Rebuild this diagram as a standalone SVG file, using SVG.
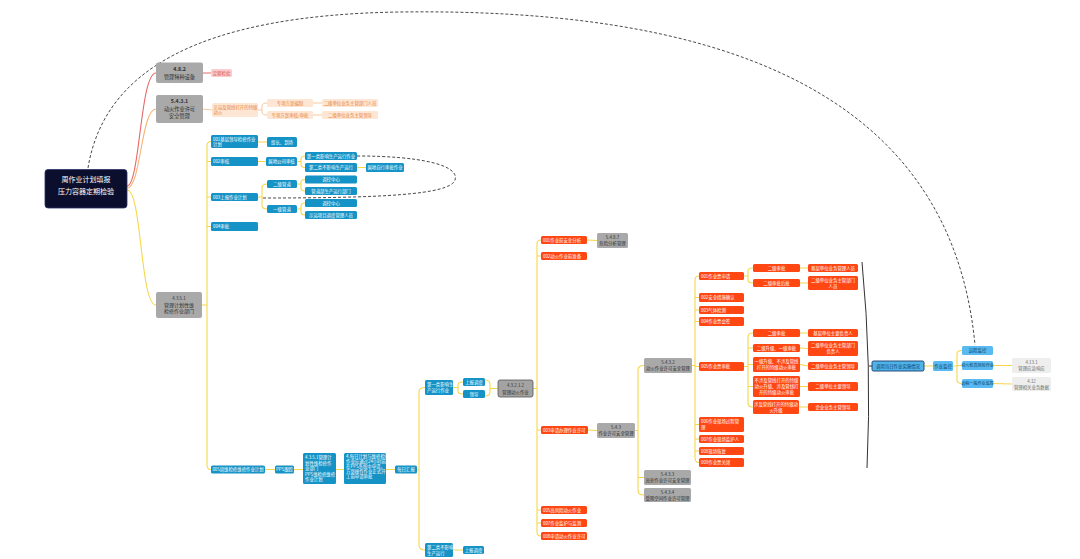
<svg xmlns="http://www.w3.org/2000/svg" width="1080" height="559" viewBox="0 0 1080 559">
<style>
text{font-family:"Noto Sans CJK SC","Noto Sans",sans-serif;font-size:4.4px}
.c{text-anchor:middle}
.b{fill:#1592c6}
.bt{fill:#fff}
.r{fill:#ff4713}
.rt{fill:#fff}
.g{fill:#a9a9a9}
.gt{fill:#2e2e2e}
.p{fill:#fde6d3}
.pt{fill:#e8823a}
.s{fill:#58baf0}
.st{fill:#0d3a66}
.lg{fill:#eeeeee}
.lgt{fill:#6b6b6b}
.y{fill:none;stroke:#f6d74a;stroke-width:1.1}
.pl{fill:none;stroke:#f8c79a;stroke-width:1}
.dash{fill:none;stroke:#333;stroke-width:0.9;stroke-dasharray:3 2}
</style>
<rect width="1080" height="559" fill="#fff"/>
<g id="connectors">
<path class="y" d="M127,190 C142,190 140,305 156,305 M202,305 L207,305 M211,141.5 Q207,141.5 207,146 L207,465 Q207,469.5 211,469.5 M207,161.5 L211,161.5 M207,197 L211,197 M207,226.5 L211,226.5"/>
<path class="y" d="M258,142 L267,142 M258,161.5 L266,161.5 M297,161.5 L301,161.5 M305,156 Q301,156 301,159 L301,164.5 Q301,167.5 305,167.5 M357,167.5 L366,167.5"/>
<path class="y" d="M258,197 L262,197 M267,184 Q262,184 262,188 L262,205 Q262,209 267,209 M297,184 L301,184 M305,179.5 Q301,179.5 301,182 L301,188.5 Q301,191 305,191 M297,209 L301,209 M305,203 Q301,203 301,206 L301,212 Q301,215 305,215"/>
<path class="y" d="M265,469.5 L275,469.5 M294,469.5 L303,469.5 M336,469.5 L344,469.5 M386,469.5 L395,469.5 M417,469.5 L419,469.5 M425,387.5 Q419,387.5 419,392 L419,545 Q419,550 425,550"/>
<path class="y" d="M453,387.5 L458,387.5 M463,382 Q458,382 458,385 L458,391 Q458,394 463,394 M485,380 Q490,380 490,384 L490,392 Q490,396 485,396 M490,388.5 L498,388.5 M453,550 L463,550"/>
<path class="y" d="M533,388.5 L537,388.5 M541,240 Q537,240 537,244 L537,532 Q537,536 541,536 M537,256 L541,256 M537,430 L541,430 M537,510 L541,510 M537,523 L541,523 M587,240 L597,240.5 M588,430 L597,430.5"/>
<path class="y" d="M635,430.5 L638,430.5 M644,365.5 Q638,365.5 638,370 L638,490.5 Q638,495 644,495 M638,477.5 L644,477.5"/>
<path class="y" d="M692,365.5 L695,365.5 M699,276 Q695,276 695,280 L695,458 Q695,462.5 699,462.5 M695,297.5 L699,297.5 M695,310 L699,310 M695,321.5 L699,321.5 M695,366.5 L699,366.5 M695,424.5 L699,424.5 M695,439 L699,439 M695,451 L699,451"/>
<path class="y" d="M744,276 L748,276 M753,268 Q748,268 748,271 L748,280 Q748,283 753,283 M800,268 L808,268 M800,283 L808,283"/>
<path class="y" d="M744,366.5 L748,366.5 M753,333 Q748,333 748,337 L748,403 Q748,407 753,407 M748,348 L753,348 M748,364.5 L753,364.5 M748,386.5 L753,386.5 M800,333 L808,333 M800,348 L808,348.5 M800,364.5 L808,366 M800,386.5 L808,386.5 M799,407 L808,407"/>
<path class="y" d="M924,366 L933,366 M953,366 L957,366 M962,350.5 Q957,350.5 957,354 L957,380 Q957,383.5 962,383.5 M957,365.5 L962,365.5 M993,365.5 L1012,365.5 M993,383.5 L1012,384"/>
<path fill="none" stroke="#e86a6a" stroke-width="1.1" d="M127,186 C140,186 140,73 156,73 M203,73 L211,73"/>
<path fill="none" stroke="#f5b475" stroke-width="1.1" d="M127,188 C141,188 141,109 156,109"/>
<path class="pl" d="M203,109 L212,110 M258,110 L262,110 M267,103 Q262,103 262,106 L262,112 Q262,115 267,115 M313,103 L322,103 M313,115 L322,115"/>
<path fill="none" stroke="#333" stroke-width="1" d="M862,262 Q872,365 867,468 M869,366 L872,366"/>
<path class="dash" d="M88,168 C104,70 200,15 400,12 C700,8 950,80 975,345"/>
<path class="dash" d="M357,156 C420,156 460,165 455,180 C450,195 380,198 262,198"/>
</g>
<g id="root">
<rect x="45" y="169.5" width="82" height="38.5" rx="3" fill="#0b0e2c" stroke="#2a3466" stroke-width="0.8"/>
<text class="c" x="86" y="182" fill="#fff" style="font-size:7px">周作业计划填报</text>
<text class="c" x="86" y="194" fill="#fff" style="font-size:7px">压力容器定期检验</text>
</g>
<g id="n482"><rect class="g" x="156" y="62.5" width="47" height="20.5" rx="2"/><text class="c gt" x="179.5" y="71" style="font-size:5.2px;font-weight:bold">4.8.2</text><text class="c gt" x="179.5" y="78.5" style="font-size:5.2px">管理特种设备</text></g>
<g id="n482a"><rect x="211" y="69" width="21" height="8" rx="1.5" fill="#f9cdd0"/><text class="c" x="221.5" y="74.6" fill="#d9534f">定期检验</text></g>
<g id="n5431"><rect class="g" x="156" y="95" width="47" height="28" rx="2"/><text class="c gt" x="179.5" y="103" style="font-size:5.2px;font-weight:bold">5.4.3.1</text><text class="c gt" x="179.5" y="110.5" style="font-size:5.2px">动火作业许可</text><text class="c gt" x="179.5" y="118" style="font-size:5.2px">安全管理</text></g>
<g id="p1"><rect class="p" x="212" y="103" width="46" height="14" rx="1.5"/><text class="pt" x="213.5" y="108.5">示运及管线打开的特级</text><text class="pt" x="213.5" y="114">动火</text></g>
<g id="p2"><rect class="p" x="267" y="99" width="46" height="8" rx="1.5"/><text class="c pt" x="290" y="104.6">专项方案编制</text></g>
<g id="p3"><rect class="p" x="267" y="111" width="46" height="8" rx="1.5"/><text class="c pt" x="290" y="116.6">专项方案审核/审批</text></g>
<g id="p4"><rect class="p" x="322" y="99" width="56" height="8" rx="1.5"/><text class="c pt" x="350" y="104.6">二级单位业务主管部门人员</text></g>
<g id="p5"><rect class="p" x="322" y="111" width="56" height="8" rx="1.5"/><text class="c pt" x="350" y="116.6">二级单位业务主管领导</text></g>
<g id="n4351"><rect class="g" x="156" y="292" width="46" height="26" rx="2"/><text class="c gt" x="179" y="299.5">4.3.5.1</text><text class="c gt" x="179" y="306.5" style="font-size:5px">管理计划性维</text><text class="c gt" x="179" y="313" style="font-size:5px">检修作业部门</text></g>
<g id="b001"><rect class="b" x="211" y="135" width="47" height="13" rx="1.5"/><text class="bt" x="213" y="140.5">001基层领导检修作业</text><text class="bt" x="213" y="146">计划</text></g>
<g id="b001a"><rect class="b" x="267" y="137" width="30" height="10" rx="1.5"/><text class="c bt" x="282" y="143.6">组长、到场</text></g>
<g id="b002"><rect class="b" x="211" y="157" width="47" height="9" rx="1.5"/><text class="bt" x="213" y="163">002审核</text></g>
<g id="b002a"><rect class="b" x="266" y="157" width="31" height="9" rx="1.5"/><text class="c bt" x="281.5" y="163">属地公司审核</text></g>
<g id="b002b"><rect class="b" x="305" y="152" width="52" height="8" rx="1.5"/><text class="c bt" x="331" y="157.6">第一类影响生产运行作业</text></g>
<g id="b002c"><rect class="b" x="305" y="163" width="52" height="9" rx="1.5"/><text class="c bt" x="331" y="169">第二类不影响生产运行</text></g>
<g id="b002d"><rect class="b" x="366" y="163" width="38" height="9" rx="1.5"/><text class="c bt" x="385" y="169">属地自行审批作业</text></g>
<g id="b003"><rect class="b" x="211" y="193" width="47" height="8" rx="1.5"/><text class="bt" x="213" y="198.6">003上报作业计划</text></g>
<g id="b003a"><rect class="b" x="267" y="180" width="30" height="8" rx="1.5"/><text class="c bt" x="282" y="185.6">二级管道</text></g>
<g id="b003b"><rect class="b" x="305" y="175.5" width="52" height="8" rx="1.5"/><text class="c bt" x="331" y="181.1">调控中心</text></g>
<g id="b003c"><rect class="b" x="305" y="187" width="52" height="8" rx="1.5"/><text class="c bt" x="331" y="192.6">管道部生产运行部门</text></g>
<g id="b003d"><rect class="b" x="267" y="205" width="30" height="8" rx="1.5"/><text class="c bt" x="282" y="210.6">一级管道</text></g>
<g id="b003e"><rect class="b" x="305" y="199" width="52" height="8" rx="1.5"/><text class="c bt" x="331" y="204.6">调控中心</text></g>
<g id="b003f"><rect class="b" x="305" y="211" width="52" height="8" rx="1.5"/><text class="c bt" x="331" y="216.6">示运项目调度管理人员</text></g>
<g id="b004"><rect class="b" x="211" y="222" width="47" height="9" rx="1.5"/><text class="bt" x="213" y="228">004审批</text></g>
<g id="b005"><rect class="b" x="211" y="465.5" width="54" height="8" rx="1.5"/><text class="c bt" x="238" y="471.1">005周维检修维修作业计划</text></g>
<g id="b005a"><rect class="b" x="275" y="465.5" width="19" height="8" rx="1.5"/><text class="c bt" x="284.5" y="471.1">PPS跟踪</text></g>
<g id="b005b"><rect class="b" x="303" y="453" width="33" height="31" rx="1.5"/><text class="bt" x="305" y="459">4.3.5.1管理计</text><text class="bt" x="305" y="464.5">划性维检修作</text><text class="bt" x="305" y="470">业部门</text><text class="bt" x="305" y="475.5">PPS维检修维修</text><text class="bt" x="305" y="481">作业计划</text></g>
<g id="b005c"><rect class="b" x="344" y="453" width="42" height="31" rx="1.5"/><text class="bt" x="346" y="458">4.每日计划与维修检修</text><text class="bt" x="346" y="463">作业应通过24小时前</text><text class="bt" x="346" y="468">在PPS系统中申请，</text><text class="bt" x="346" y="473">方案操作作业正式开</text><text class="bt" x="346" y="478">工前申请审批</text></g>
<g id="b005d"><rect class="b" x="395" y="465.5" width="22" height="8" rx="1.5"/><text class="c bt" x="406" y="471.1">每日汇报</text></g>
<g id="c1"><rect class="b" x="425" y="380" width="28" height="15" rx="1.5"/><text class="bt" x="427" y="386.3">第一类影响生</text><text class="bt" x="427" y="392.3">产运行作业</text></g>
<g id="c1a"><rect class="b" x="463" y="378" width="22" height="8" rx="1.5"/><text class="c bt" x="474" y="383.6">上报调度</text></g>
<g id="c1b"><rect class="b" x="463" y="390" width="22" height="8" rx="1.5"/><text class="c bt" x="474" y="395.6">领导</text></g>
<g id="c2"><rect class="b" x="425" y="543" width="28" height="14" rx="1.5"/><text class="bt" x="427" y="549">第二类不影响</text><text class="bt" x="427" y="555">生产运行</text></g>
<g id="c2a"><rect class="b" x="463" y="546" width="21" height="8" rx="1.5"/><text class="c bt" x="473.5" y="551.6">上报调度</text></g>
<g id="g43212"><rect x="498" y="380" width="35" height="17" rx="2" fill="#a3a3a3" stroke="#555" stroke-width="0.8"/><text class="c gt" x="515.5" y="387">4.3.2.1.2</text><text class="c gt" x="515.5" y="393.5">管理动火作业</text></g>
<g id="r1"><rect class="r" x="541" y="236" width="46" height="8" rx="1.5"/><text class="rt" x="543" y="241.6">001作业前安全分析</text></g>
<g id="g5487"><rect class="g" x="597" y="233" width="31" height="15" rx="1.5"/><text class="c gt" x="612.5" y="239.3">5.4.8.7</text><text class="c gt" x="612.5" y="245.3">危险分析管理</text></g>
<g id="r2"><rect class="r" x="541" y="252" width="46" height="8" rx="1.5"/><text class="rt" x="543" y="257.6">002动火作业前准备</text></g>
<g id="r3"><rect class="r" x="541" y="426" width="47" height="8" rx="1.5"/><text class="rt" x="543" y="431.6">003申请办理作业许可</text></g>
<g id="g543"><rect class="g" x="597" y="423" width="38" height="15" rx="1.5"/><text class="c gt" x="616" y="429.3">5.4.3</text><text class="c gt" x="616" y="435.3">作业许可安全管理</text></g>
<g id="r5"><rect class="r" x="541" y="506" width="46" height="8" rx="1.5"/><text class="rt" x="543" y="511.6">005高风险动火作业</text></g>
<g id="r7"><rect class="r" x="541" y="519" width="46" height="8" rx="1.5"/><text class="rt" x="543" y="524.6">007作业监护与监测</text></g>
<g id="r8"><rect class="r" x="541" y="532" width="46" height="8" rx="1.5"/><text class="rt" x="543" y="537.6">008申请动火作业许可</text></g>
<g id="g5432"><rect class="g" x="644" y="358" width="48" height="15" rx="1.5"/><text class="c gt" x="668" y="364.3">5.4.3.2</text><text class="c gt" x="668" y="370.3">动火作业许可安全管理</text></g>
<g id="g5433"><rect class="g" x="644" y="470" width="47" height="15" rx="1.5"/><text class="c gt" x="667.5" y="476.3">5.4.3.3</text><text class="c gt" x="667.5" y="482.3">高处作业许可安全管理</text></g>
<g id="g5434"><rect class="g" x="644" y="488" width="47" height="14" rx="1.5"/><text class="c gt" x="667.5" y="494">5.4.3.4</text><text class="c gt" x="667.5" y="500">受限空间作业许可管理</text></g>
<g id="s1"><rect class="r" x="699" y="272" width="45" height="8" rx="1.5"/><text class="rt" x="701" y="277.6">001作业票申请</text></g>
<g id="s2"><rect class="r" x="699" y="293" width="45" height="9" rx="1.5"/><text class="rt" x="701" y="299">002安全措施确认</text></g>
<g id="s3"><rect class="r" x="699" y="306" width="45" height="8" rx="1.5"/><text class="rt" x="701" y="311.6">003气体检测</text></g>
<g id="s4"><rect class="r" x="699" y="317" width="45" height="9" rx="1.5"/><text class="rt" x="701" y="323">004作业票会签</text></g>
<g id="s5"><rect class="r" x="699" y="362" width="45" height="9" rx="1.5"/><text class="rt" x="701" y="368">005作业票审批</text></g>
<g id="s6"><rect class="r" x="699" y="417" width="45" height="15" rx="1.5"/><text class="rt" x="701" y="423">006作业现场过程管</text><text class="rt" x="701" y="429">理</text></g>
<g id="s7"><rect class="r" x="699" y="435" width="45" height="8" rx="1.5"/><text class="rt" x="701" y="440.6">007作业现场监护人</text></g>
<g id="s8"><rect class="r" x="699" y="447" width="45" height="8" rx="1.5"/><text class="rt" x="701" y="452.6">008现场恢复</text></g>
<g id="s9"><rect class="r" x="699" y="458" width="45" height="9" rx="1.5"/><text class="rt" x="701" y="464">009作业票关闭</text></g>
<g id="a1"><rect class="r" x="753" y="264" width="47" height="8" rx="1.5"/><text class="c rt" x="776.5" y="269.6">二级审批</text></g>
<g id="a2"><rect class="r" x="753" y="279" width="47" height="8" rx="1.5"/><text class="c rt" x="776.5" y="284.6">二级审批后批</text></g>
<g id="a1r"><rect class="r" x="808" y="264" width="50" height="8" rx="1.5"/><text class="c rt" x="833" y="269.6">基层单位业务管理人员</text></g>
<g id="a2r"><rect class="r" x="808" y="276" width="50" height="14" rx="1.5"/><text class="c rt" x="833" y="282">二级单位业务主管部门</text><text class="c rt" x="833" y="287.5">人员</text></g>
<g id="e1"><rect class="r" x="753" y="329" width="47" height="8" rx="1.5"/><text class="c rt" x="776.5" y="334.6">二级审批</text></g>
<g id="e2"><rect class="r" x="753" y="344" width="47" height="8" rx="1.5"/><text class="c rt" x="776.5" y="349.6">二级升级、一级审批</text></g>
<g id="e3"><rect class="r" x="753" y="357" width="47" height="15" rx="1.5"/><text class="c rt" x="776.5" y="363.3">一级升级、不涉及管线</text><text class="c rt" x="776.5" y="369.3">打开的特级动火审批</text></g>
<g id="e4"><rect class="r" x="753" y="376" width="47" height="21" rx="1.5"/><text class="c rt" x="776.5" y="382.3">不涉及管线打开的特级</text><text class="c rt" x="776.5" y="388.3">动火升级、涉及管线打</text><text class="c rt" x="776.5" y="394.3">开的特级动火审批</text></g>
<g id="e5"><rect class="r" x="753" y="400" width="46" height="14" rx="1.5"/><text class="c rt" x="776" y="406">涉及管线打开的特级动</text><text class="c rt" x="776" y="412">火升级</text></g>
<g id="f1"><rect class="r" x="808" y="329" width="50" height="8" rx="1.5"/><text class="c rt" x="833" y="334.6">基层单位主要负责人</text></g>
<g id="f2"><rect class="r" x="808" y="341" width="50" height="15" rx="1.5"/><text class="c rt" x="833" y="347.3">二级单位业务主管部门</text><text class="c rt" x="833" y="353.3">负责人</text></g>
<g id="f3"><rect class="r" x="808" y="362" width="50" height="8" rx="1.5"/><text class="c rt" x="833" y="367.6">二级单位业务主管领导</text></g>
<g id="f4"><rect class="r" x="808" y="382" width="50" height="9" rx="1.5"/><text class="c rt" x="833" y="388">二级单位主要领导</text></g>
<g id="f5"><rect class="r" x="808" y="403" width="50" height="8" rx="1.5"/><text class="c rt" x="833" y="408.6">企业业务主管领导</text></g>
<g id="t1"><rect x="872" y="361" width="52" height="10" rx="1.5" fill="#4fb3ea" stroke="#1a3a6a" stroke-width="0.9"/><text class="c st" x="898" y="367.6">调用当日作业实施情况</text></g>
<g id="t2"><rect class="s" x="933" y="361" width="20" height="10" rx="1.5"/><text class="c st" x="943" y="367.6">作业监控</text></g>
<g id="t3"><rect class="s" x="962" y="346" width="31" height="9" rx="1.5"/><text class="c st" x="977.5" y="352">远程监控</text></g>
<g id="t4"><rect class="s" x="962" y="361" width="31" height="9" rx="1.5"/><text class="c st" x="977.5" y="367" style="font-size:4.1px">动火和高风险作业</text></g>
<g id="t5"><rect class="s" x="962" y="379" width="31" height="9" rx="1.5"/><text class="c st" x="977.5" y="385" style="font-size:4.1px">远程一般作业监控</text></g>
<g id="t6"><rect class="lg" x="1012" y="358" width="39" height="15" rx="1.5"/><text class="c lgt" x="1031.5" y="364.3">4.13.1</text><text class="c lgt" x="1031.5" y="370.3">管理应急响应</text></g>
<g id="t7"><rect class="lg" x="1012" y="377" width="39" height="14" rx="1.5"/><text class="c lgt" x="1031.5" y="383">4.12</text><text class="c lgt" x="1031.5" y="389">管理相关业务数据</text></g>
</svg>
